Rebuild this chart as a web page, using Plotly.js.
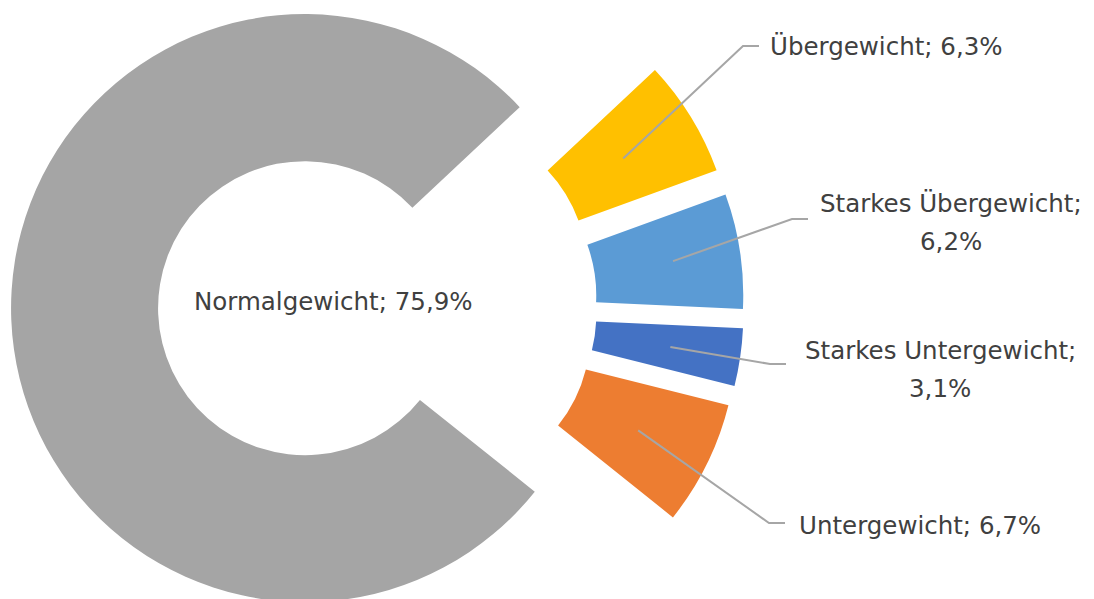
<!DOCTYPE html>
<html>
<head>
<meta charset="utf-8">
<script src="https://cdn.plot.ly/plotly-3.0.1.min.js"></script>
<style>
  html, body { margin: 0; padding: 0; width: 1094px; height: 599px; overflow: hidden; background: #ffffff; }
  #chart { position: absolute; left: 0; top: -69px; width: 1094px; height: 748px; }
</style>
</head>
<body>
<div id="chart"></div>
<script>
// Data (Excel series order)
const categories = ["Starkes Untergewicht", "Untergewicht", "Normalgewicht", "Übergewicht", "Starkes Übergewicht"];
const values = [3.1, 6.7, 75.9, 6.3, 6.2];
const valueLabels = ["3,1%", "6,7%", "75,9%", "6,3%", "6,2%"];
const colors = ["#4472C4", "#ED7D31", "#A5A5A5", "#FFC000", "#5B9BD5"];
const pulls = [0.221, 0.221, 0.272, 0.221, 0.221];

// Layout geometry
const W = 1094, H = 748, OFFSET = 69;
const domX = [11 / W, 759 / W];
const rotation = 92.7;
const hole = 0.5;

function px(x) { return x / W; }
function py(y) { return 1 - (y + OFFSET) / H; }

// pie centre / radius as computed by plotly
const cx = W * (domX[0] + domX[1]) / 2;
const cy = H / 2 - OFFSET;
const maxPull = Math.max(...pulls);
const R = Math.min(W * (domX[1] - domX[0]) / 2, H / 2) / (1 + maxPull);

// leader line anchors computed from the data
const total = values.reduce((a, b) => a + b, 0);
let acc = rotation;
const mids = values.map(v => { const m = acc + v / total * 180; acc += v / total * 360; return m; });
function anchor(i, frac) {
  const a = mids[i] * Math.PI / 180;
  const d = (pulls[i] + frac) * R;
  return [cx + d * Math.sin(a), cy - d * Math.cos(a)];
}

const font = { family: "'DejaVu Sans', 'Open Sans', sans-serif", size: 24.5, color: "#404040" };

// label placements
const labelDefs = [
  { i: 3, lines: [categories[3] + "; " + valueLabels[3]], x: 768, y: 47, xanchor: "left", elbow: [743, 46], end: [759, 46], frac: 0.73 },
  { i: 4, lines: [categories[4] + ";", valueLabels[4]], x: 951, y: 203, xanchor: "center", elbow: [792, 219], end: [808, 219], frac: 0.77 },
  { i: 0, lines: [categories[0] + ";", valueLabels[0]], x: 940, y: 350, xanchor: "center", elbow: [770, 364], end: [786, 364], frac: 0.76 },
  { i: 1, lines: [categories[1] + "; " + valueLabels[1]], x: 797, y: 525, xanchor: "left", elbow: [769, 523], end: [785, 523], frac: 0.74 },
  { i: 2, lines: [categories[2] + "; " + valueLabels[2]], x: 333, y: 301, xanchor: "center", elbow: null, end: null, frac: 0 }
];

const annotations = [];
const shapes = [];
labelDefs.forEach(d => {
  d.lines.forEach((t, k) => {
    annotations.push({
      xref: "paper", yref: "paper",
      x: px(d.x), y: py(d.y + k * 38),
      xanchor: d.xanchor, yanchor: "middle",
      text: t, showarrow: false, font: font
    });
  });
  if (d.elbow) {
    const a = anchor(d.i, d.frac);
    shapes.push({
      type: "path", xref: "paper", yref: "paper",
      path: `M ${px(a[0])} ${py(a[1])} L ${px(d.elbow[0])} ${py(d.elbow[1])} L ${px(d.end[0])} ${py(d.end[1])}`,
      line: { color: "#A6A6A6", width: 2 }
    });
  }
});

const trace = {
  type: "pie",
  labels: categories,
  values: values,
  hole: hole,
  sort: false,
  direction: "clockwise",
  rotation: rotation,
  pull: pulls,
  marker: { colors: colors, line: { width: 0 } },
  textinfo: "none",
  hoverinfo: "label",
  domain: { x: domX, y: [0, 1] }
};

const layout = {
  width: W, height: H,
  margin: { l: 0, r: 0, t: 0, b: 0, pad: 0 },
  showlegend: false,
  paper_bgcolor: "#ffffff",
  annotations: annotations,
  shapes: shapes
};

Plotly.newPlot("chart", [trace], layout, { displayModeBar: false, staticPlot: true });
</script>
</body>
</html>
